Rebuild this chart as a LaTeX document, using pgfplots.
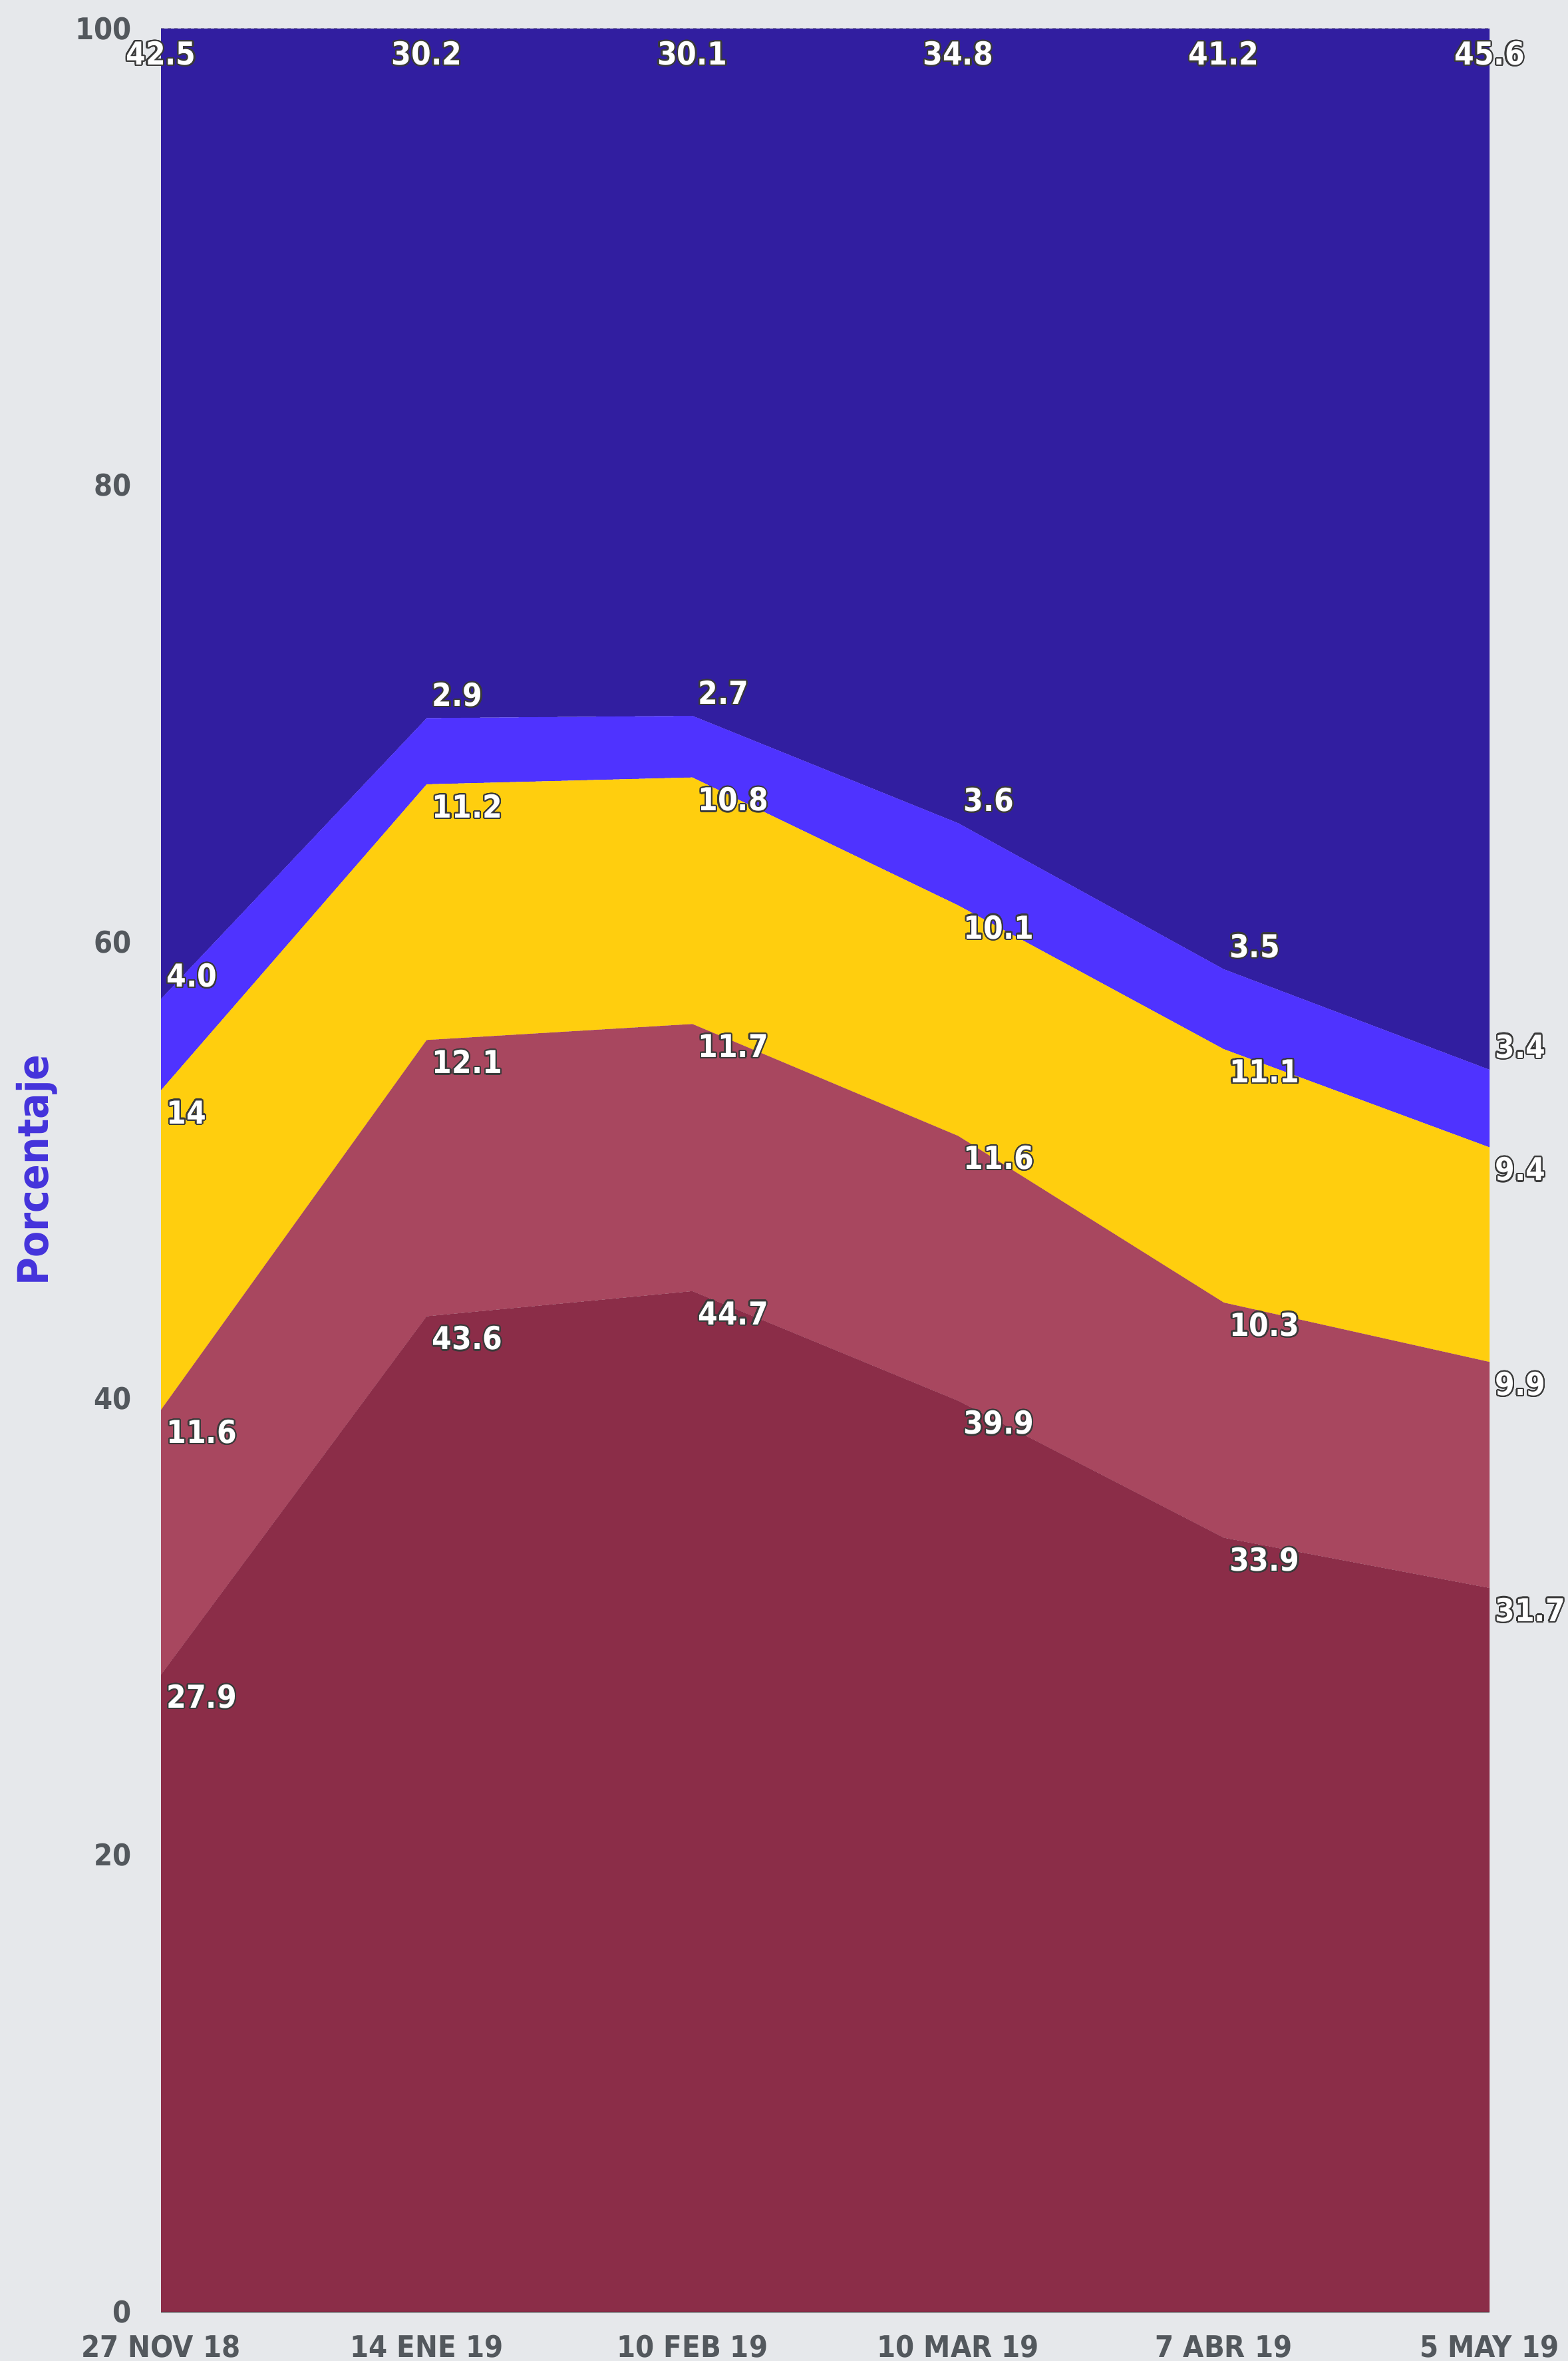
\documentclass[border=0pt]{standalone}
\usepackage{pgfplots}
\usepackage{pgfplotstable}
\pgfplotsset{compat=1.18}
\usepackage{fontspec}
\setmainfont{DejaVu Sans}
\newfontfamily\condb{DejaVu Sans Condensed Bold}
\usepackage{contour}
\contourlength{0.45pt}
\contournumber{20}
\definecolor{bg}{HTML}{E6E8EB}
\definecolor{dkblue}{HTML}{311EA0}
\definecolor{brblue}{HTML}{4F33FF}
\definecolor{yel}{HTML}{FFCE0E}
\definecolor{ltmar}{HTML}{A8475F}
\definecolor{dkmar}{HTML}{8B2D48}
\definecolor{tickgray}{HTML}{53585D}
\definecolor{lblblue}{HTML}{4534DB}
\definecolor{shadow}{HTML}{3A3A3A}

\pgfplotstableread{
x y
0 27.9
1 43.6
2 44.7
3 39.9
4 33.9
5 31.7
}\sA
\pgfplotstableread{
x y
0 11.6
1 12.1
2 11.7
3 11.6
4 10.3
5 9.9
}\sB
\pgfplotstableread{
x y
0 14
1 11.2
2 10.8
3 10.1
4 11.1
5 9.4
}\sC
\pgfplotstableread{
x y
0 4.0
1 2.9
2 2.7
3 3.6
4 3.5
5 3.4
}\sD
\pgfplotstableread{
x y
0 42.5
1 30.2
2 30.1
3 34.8
4 41.2
5 45.6
}\sE

\begin{document}
\begin{tikzpicture}
\fill[bg] (0,0) rectangle (471.4pt,709.8pt);
\begin{axis}[
  at={(48.4pt,14.8pt)}, anchor=south west,
  scale only axis, width=399.4pt, height=686.4pt,
  xmin=0, xmax=5, ymin=0, ymax=100,
  stack plots=y, clip=false,
  axis lines*=left,
  x axis line style={black, line width=0.6pt},
  y axis line style={draw=none},
  major tick length=0pt,
  xtick={0,...,5},
  xticklabels={27 NOV 18,14 ENE 19,10 FEB 19,10 MAR 19,7 ABR 19,5 MAY 19},
  ytick={0,20,40,60,80,100},
  yticklabels={0,20,40,60,80,100},
  ticklabel style={font=\condb\fontsize{9}{10}\selectfont, text=tickgray, inner sep=0pt},
  xticklabel style={anchor=north, yshift=-6.9pt},
  yticklabel style={anchor=east, xshift=-8.6pt},
  ylabel={Porcentaje},
  every axis y label/.style={at={(axis description cs:-0.0851,0.5)}, rotate=90, anchor=base, font=\condb\fontsize{12.7}{14}\selectfont, text=lblblue},
]
\addplot[fill=dkmar, draw=none] table[x=x,y=y] {\sA} \closedcycle;
\addplot[fill=ltmar, draw=none] table[x=x,y=y] {\sB} \closedcycle;
\addplot[fill=yel, draw=none] table[x=x,y=y] {\sC} \closedcycle;
\addplot[fill=brblue, draw=none] table[x=x,y=y] {\sD} \closedcycle;
\addplot[fill=dkblue, draw=none] table[x=x,y=y] {\sE} \closedcycle;
\draw[gray!80, line width=0.4pt, dash pattern=on 1pt off 1pt] (rel axis cs:0,1) -- (rel axis cs:1,1);
\end{axis}
\begin{axis}[
  at={(48.4pt,14.8pt)}, anchor=south west,
  scale only axis, width=399.4pt, height=686.4pt,
  xmin=0, xmax=5, ymin=0, ymax=100,
  stack plots=y, clip=false,
  axis lines=none, xtick=\empty, ytick=\empty,
  point meta=explicit symbolic,
  nodes near coords={\contour{shadow}{\pgfplotspointmeta}},
  every node near coord/.style={font=\condb\fontsize{9.5}{10}\selectfont, text=white, inner sep=0pt, anchor=west, xshift=1.5pt, yshift=-6.8pt},
]
\addplot[draw=none, mark=none] table[x=x,y=y,meta=y] {\sA};
\addplot[draw=none, mark=none] table[x=x,y=y,meta=y] {\sB};
\addplot[draw=none, mark=none] table[x=x,y=y,meta=y] {\sC};
\addplot[draw=none, mark=none, every node near coord/.style={font=\condb\fontsize{9.5}{10}\selectfont, text=white, inner sep=0pt, anchor=west, xshift=1.5pt, yshift=6.8pt}] table[x=x,y=y,meta=y] {\sD};
\addplot[draw=none, mark=none, every node near coord/.style={font=\condb\fontsize{9.5}{10}\selectfont, text=white, inner sep=0pt, anchor=center, yshift=-7.7pt}] table[x=x,y=y,meta=y] {\sE};
\end{axis}
\pgfresetboundingbox
\useasboundingbox (0,0) rectangle (471.4pt,709.8pt);
\end{tikzpicture}
\end{document}
